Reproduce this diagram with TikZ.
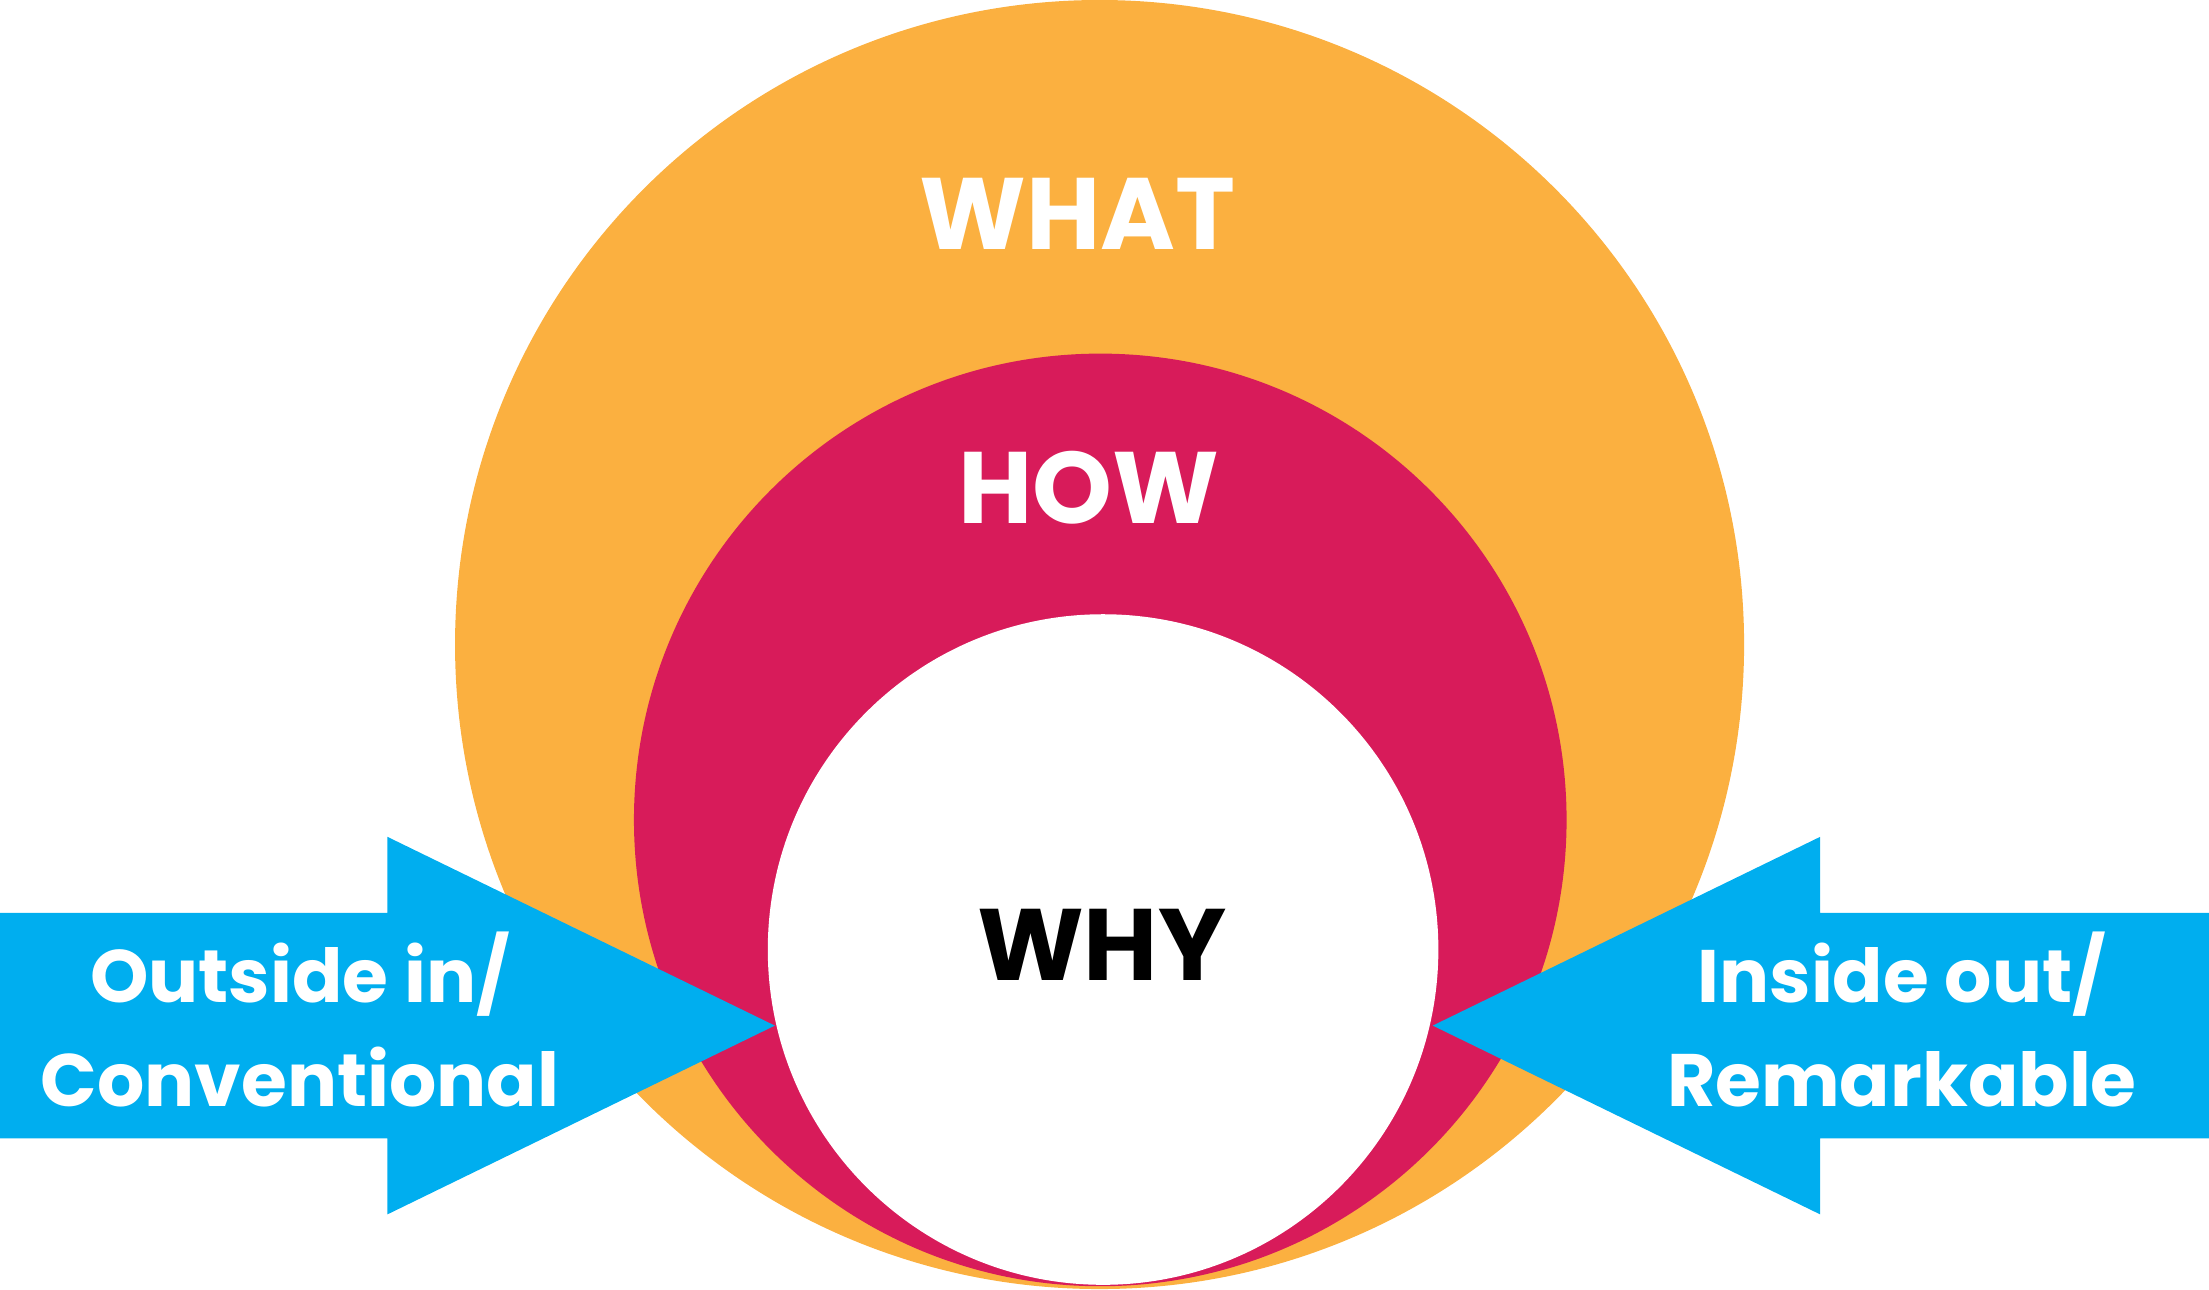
\documentclass[tikz,border=0pt]{standalone}
\usepackage{fontspec}
\setmainfont{Poppins}
\definecolor{corange}{HTML}{FBB040}
\definecolor{ccrimson}{HTML}{D81B5A}
\definecolor{cblue}{HTML}{00AEEF}
\begin{document}
\begin{tikzpicture}[x=0.01cm,y=-0.01cm,
  big/.style={font=\fontsize{20.5pt}{24pt}\selectfont\bfseries},
  small/.style={font=\fontsize{15pt}{21pt}\selectfont\bfseries,text=white,align=center}]
\useasboundingbox (0,0) rectangle (1568,915);
\fill[corange] (780.5,457.5) circle (457.5);
\fill[ccrimson] (781,582) circle (331);
\fill[white] (783,674) circle (238);
\fill[cblue] (0,648) -- (275,648) -- (275,594) -- (550,728) -- (275,862) -- (275,808) -- (0,808) -- cycle;
\fill[cblue] (1568,648) -- (1292,648) -- (1292,594) -- (1017,728) -- (1292,862) -- (1292,808) -- (1568,808) -- cycle;
\node[big,text=white] (what) at (765,152) {WHAT};
\node[big,text=white] (how) at (773,346) {HOW};
\node[big,text=black] (why) at (782,671) {WHY};
\node[small] (left) at (213,724) {Outside in/\\Conventional};
\node[small] (right) at (1350,724) {Inside out/\\Remarkable};
\end{tikzpicture}
\end{document}
